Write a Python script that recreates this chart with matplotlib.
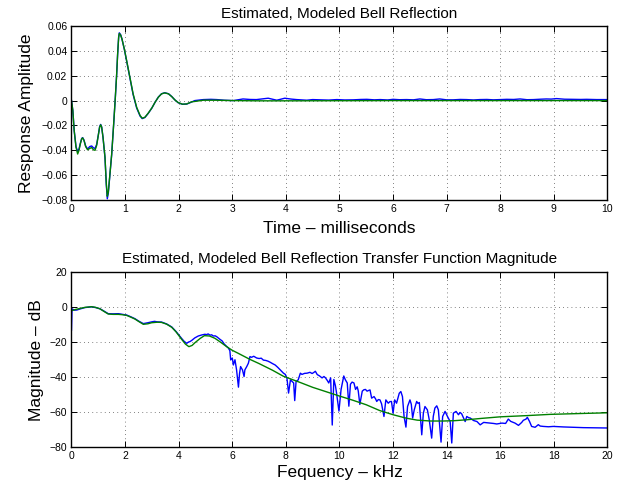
import matplotlib
matplotlib.use("Agg")
import matplotlib.pyplot as plt

plt.rcParams['font.family'] = ['Liberation Sans', 'DejaVu Sans']

# ---- top panel: impulse response (time in ms) ----
t_early = [0, 0.025, 0.05, 0.084, 0.115, 0.14, 0.165, 0.19, 0.208, 0.233,
           0.264, 0.30, 0.34, 0.376, 0.41, 0.44, 0.47, 0.50, 0.525, 0.544,
           0.563, 0.588, 0.625, 0.65, 0.668, 0.687, 0.712, 0.75, 0.787, 0.818,
           0.843, 0.861, 0.88, 0.892, 0.917, 0.942, 0.986, 1.03, 1.09, 1.15,
           1.216, 1.28, 1.32, 1.37, 1.43, 1.50, 1.56, 1.62, 1.68, 1.74,
           1.81, 1.87, 1.93, 1.99, 2.07, 2.15, 2.24]
amp_model_early = [0, -0.008, -0.024, -0.0375, -0.043, -0.040, -0.0348, -0.0308, -0.030, -0.032,
                   -0.037, -0.0396, -0.0385, -0.0378, -0.0396, -0.040, -0.036, -0.028, -0.0214, -0.0195,
                   -0.0214, -0.0295, -0.0455, -0.067, -0.077, -0.0736, -0.0616, -0.043, -0.0187, 0.0027,
                   0.0214, 0.0375, 0.051, 0.054, 0.0527, 0.0495, 0.0415, 0.032, 0.0187, 0.0054,
                   -0.0054, -0.012, -0.0142, -0.0134, -0.0102, -0.0059, -0.0013, 0.0027, 0.0054, 0.0062,
                   0.0054, 0.0032, 0.0005, -0.0016, -0.0029, -0.0027, -0.001]
amp_est_early = [0, -0.008, -0.024, -0.037, -0.041, -0.039, -0.0345, -0.0305, -0.0298, -0.0318,
                 -0.0365, -0.039, -0.037, -0.0365, -0.038, -0.0385, -0.0352, -0.0278, -0.021, -0.0192,
                 -0.0212, -0.0295, -0.046, -0.068, -0.079, -0.0745, -0.062, -0.0435, -0.019, 0.0025,
                 0.0212, 0.0375, 0.051, 0.0545, 0.053, 0.0495, 0.0412, 0.0315, 0.0182, 0.0048,
                 -0.006, -0.0125, -0.0145, -0.0136, -0.0104, -0.006, -0.0013, 0.0028, 0.0055, 0.0063,
                 0.0055, 0.0033, 0.0005, -0.0017, -0.003, -0.0028, -0.0012]

t_model_tail = [2.3, 2.46, 2.7, 3.0, 3.5, 4.0, 5.0, 6.0, 7.0, 8.0, 9.0, 10.0]
amp_model_tail = [-0.0007, 0.0003, 0.0003, 0.0, -0.0002, -0.0002, -0.0001, 0.0, 0.0, 0.0, 0.0, 0.0]

t_est_tail = [2.3, 2.46, 2.6, 2.71, 2.85, 3.02, 3.2, 3.33, 3.45, 3.55,
              3.67, 3.83, 3.98, 4.1, 4.2, 4.39, 4.5, 4.64, 4.8, 4.95,
              5.1, 5.26, 5.4, 5.51, 5.65, 5.76, 5.9, 6.0, 6.12, 6.25,
              6.38, 6.5, 6.62, 6.75, 6.87, 7.0, 7.12, 7.25, 7.37, 7.5,
              7.62, 7.75, 7.87, 8.0, 8.12, 8.25, 8.37, 8.5, 8.62, 8.75,
              8.86, 8.95, 9.05, 9.2, 9.36, 9.5, 9.61, 9.8, 10.0]
amp_est_tail = [0.0, 0.0008, 0.001, 0.0008, 0.0003, 0.0, 0.0013, 0.0009, 0.0008, 0.0013,
                0.0019, 0.0003, 0.0019, 0.0012, 0.0008, 0.0003, 0.0008, 0.0006, 0.0004, 0.0008,
                0.0005, 0.0006, 0.0009, 0.001, 0.0006, 0.0008, 0.0005, 0.001, 0.0007, 0.0008,
                0.0006, 0.0013, 0.0007, 0.0008, 0.0013, 0.0006, 0.0006, 0.0009, 0.0008, 0.0005,
                0.0008, 0.0009, 0.0006, 0.0008, 0.001, 0.0009, 0.0013, 0.0007, 0.0008, 0.0011,
                0.0013, 0.0012, 0.0016, 0.0011, 0.001, 0.0009, 0.001, 0.0008, 0.0008]

top_xticks = [0, 1, 2, 3, 4, 5, 6, 7, 8, 9, 10]
top_yticks = [-0.08, -0.06, -0.04, -0.02, 0, 0.02, 0.04, 0.06]
top_ylabels = ['\u22120.08', '\u22120.06', '\u22120.04', '\u22120.02', '0', '0.02', '0.04', '0.06']

# ---- bottom panel: magnitude response (kHz, dB) ----
f_model = [0, 0.15, 0.32, 0.5, 0.75, 0.9, 1.06, 1.2, 1.37, 1.55,
           1.75, 1.9, 2.06, 2.2, 2.37, 2.5, 2.68, 2.85, 2.99, 3.2,
           3.36, 3.55, 3.74, 3.9, 4.11, 4.25, 4.38, 4.5, 4.61, 4.8,
           4.96, 5.15, 5.35, 5.55, 5.79, 6.0, 6.22, 6.66, 7.0, 7.5,
           7.9, 8.53, 9.0, 9.5, 9.96, 10.5, 11.0, 11.5, 12.0, 12.5,
           12.9, 13.4, 13.87, 14.3, 14.74, 15.3, 16.0, 17.0, 17.85, 19.0, 20.0]
db_model = [-1.9, -1.2, -0.6, 0.0, 0.4, 0.0, -0.8, -2.2, -3.8, -4.0,
            -4.0, -4.2, -4.6, -5.5, -6.7, -8.0, -9.7, -9.4, -8.8, -8.5,
            -8.6, -9.6, -11.4, -14.0, -18.3, -21.0, -22.5, -21.8, -20.2, -17.8,
            -16.2, -16.4, -17.7, -19.8, -22.5, -24.6, -26.3, -29.8, -32.2, -36.0,
            -39.4, -43.0, -45.8, -48.3, -50.6, -53.2, -55.8, -59.1, -61.5, -63.5,
            -64.6, -65.1, -65.1, -64.9, -64.4, -63.6, -62.7, -62.0, -61.3, -60.8, -60.4]

f_est = [0, 0.02, 0.1, 0.2, 0.32, 0.5, 0.75, 0.9, 1.06, 1.2,
         1.37, 1.55, 1.75, 1.9, 2.06, 2.2, 2.37, 2.5, 2.68, 2.85,
         2.99, 3.1, 3.2, 3.36, 3.55, 3.74, 3.9, 4.11, 4.2, 4.3,
         4.36, 4.42, 4.48, 4.6, 4.73, 4.86, 4.98, 5.04, 5.1, 5.17,
         5.23, 5.29, 5.36, 5.42, 5.54, 5.62, 5.7, 5.79, 5.85, 5.91,
         5.94, 6.0, 6.04, 6.1, 6.16, 6.23, 6.27, 6.31, 6.38, 6.44,
         6.47, 6.54, 6.6, 6.66, 6.72, 6.8, 6.91, 7.0, 7.08, 7.16,
         7.25, 7.33, 7.41, 7.5, 7.6, 7.7, 7.79, 7.91, 7.98, 8.04,
         8.1, 8.17, 8.23, 8.29, 8.33, 8.38, 8.46, 8.54, 8.6, 8.7,
         8.79, 8.9, 8.98, 9.04, 9.1, 9.17, 9.25, 9.35, 9.42, 9.48,
         9.55, 9.6, 9.67, 9.73, 9.79, 9.85, 9.89, 9.98, 10.06, 10.16,
         10.22, 10.29, 10.35, 10.41, 10.47, 10.54, 10.6, 10.66, 10.7, 10.76,
         10.85, 10.91, 10.97, 11.03, 11.1, 11.14, 11.2, 11.29, 11.35, 11.39,
         11.45, 11.51, 11.57, 11.66, 11.73, 11.82, 11.88, 11.94, 12.0, 12.06,
         12.13, 12.23, 12.29, 12.35, 12.41, 12.48, 12.54, 12.63, 12.68, 12.73,
         12.79, 12.88, 12.93, 12.98, 13.07, 13.13, 13.19, 13.28, 13.35, 13.44,
         13.5, 13.56, 13.63, 13.69, 13.79, 13.85, 13.94, 14.03, 14.13, 14.19,
         14.25, 14.35, 14.44, 14.5, 14.56, 14.62, 14.69, 14.75, 14.82, 14.88,
         15.0, 15.13, 15.25, 15.38, 15.5, 15.63, 15.75, 15.87, 16.06, 16.2,
         16.3, 16.39, 16.55, 16.68, 16.8, 16.86, 16.96, 17.01, 17.09, 17.17,
         17.3, 17.42, 17.49, 17.61, 17.8, 17.98, 18.36, 19.1, 20.0]
db_est = [-13.0, -0.8, -1.6, -1.5, -0.9, -0.1, 0.3, -0.1, -0.8, -2.0,
          -3.6, -3.7, -3.6, -4.0, -4.4, -5.3, -6.5, -7.8, -9.3, -8.8,
          -8.3, -8.0, -8.3, -8.4, -9.5, -11.2, -13.8, -17.8, -19.4, -20.6,
          -19.9, -19.6, -19.0, -17.5, -16.4, -15.8, -15.4, -15.6, -15.2, -15.9,
          -15.7, -16.4, -16.3, -16.8, -18.3, -19.2, -21.0, -22.4, -23.2, -24.8,
          -30.1, -29.0, -33.0, -30.0, -35.8, -45.7, -38.0, -33.9, -35.8, -39.6,
          -35.8, -33.9, -32.0, -28.2, -28.6, -28.0, -29.0, -29.3, -29.1, -30.2,
          -30.4, -30.8, -31.4, -32.2, -33.0, -34.4, -35.8, -37.7, -38.4, -40.6,
          -49.1, -41.5, -42.4, -43.3, -53.4, -42.5, -41.5, -37.7, -38.4, -37.8,
          -37.7, -37.2, -37.9, -37.3, -36.6, -38.5, -39.2, -40.4, -39.6, -40.4,
          -42.0, -43.3, -40.4, -67.4, -41.3, -45.0, -49.0, -59.4, -47.0, -39.3,
          -41.5, -43.3, -56.6, -44.0, -42.8, -43.3, -47.0, -45.5, -47.8, -55.6,
          -48.0, -47.2, -47.0, -48.0, -47.5, -47.3, -52.0, -51.1, -52.5, -53.9,
          -52.8, -53.0, -55.2, -62.5, -53.0, -54.9, -54.0, -53.9, -60.6, -53.0,
          -54.9, -49.2, -48.2, -51.1, -62.5, -68.6, -56.8, -53.0, -55.5, -63.4,
          -58.7, -53.9, -55.0, -54.5, -73.0, -60.6, -56.8, -58.7, -64.4, -74.9,
          -62.5, -57.7, -56.4, -58.7, -77.2, -62.5, -59.6, -62.5, -65.4, -77.7,
          -60.6, -59.6, -61.5, -60.2, -61.0, -63.0, -65.4, -62.5, -63.2, -63.4,
          -64.8, -65.4, -67.3, -65.9, -66.1, -66.3, -66.5, -66.8, -66.3, -66.5,
          -64.0, -65.3, -66.3, -67.6, -65.9, -64.7, -64.0, -63.0, -65.3, -68.2,
          -68.7, -67.2, -68.0, -68.2, -68.4, -68.2, -68.5, -68.9, -69.1]

bot_xticks = [0, 2, 4, 6, 8, 10, 12, 14, 16, 18, 20]
bot_yticks = [-80, -60, -40, -20, 0, 20]
bot_ylabels = ['\u221280', '\u221260', '\u221240', '\u221220', '0', '20']

BLUE = '#0000ff'
GREEN = '#008000'


def style_axes(ax):
    ax.grid(True, linestyle=(0, (1, 4)), color='0.35', linewidth=0.6)
    ax.tick_params(direction='in', top=True, right=True, length=4, width=0.7,
                   labelsize=7.5, pad=3)
    for s in ax.spines.values():
        s.set_linewidth(1.0)


fig = plt.figure(figsize=(6.31, 4.87), dpi=100)

ax1 = fig.add_axes([0.1133, 0.5893, 0.8494, 0.3573])
ax1.plot(t_early + t_est_tail, amp_est_early + amp_est_tail, color=BLUE, lw=1.0)
ax1.plot(t_early + t_model_tail, amp_model_early + amp_model_tail, color=GREEN, lw=1.0)
ax1.set_xlim(0, 10)
ax1.set_ylim(-0.08, 0.06)
ax1.set_xticks(top_xticks)
ax1.set_yticks(top_yticks)
ax1.set_yticklabels(top_ylabels)
style_axes(ax1)
ax1.set_title('Estimated, Modeled Bell Reflection', fontsize=11, pad=6)
ax1.set_xlabel('Time \u2013 milliseconds', fontsize=12.5, labelpad=5)
ax1.set_ylabel('Response Amplitude', fontsize=12.5, labelpad=5)

ax2 = fig.add_axes([0.1133, 0.0821, 0.8494, 0.3584])
ax2.plot(f_est, db_est, color=BLUE, lw=1.0)
ax2.plot(f_model, db_model, color=GREEN, lw=1.0)
ax2.set_xlim(0, 20)
ax2.set_ylim(-80, 20)
ax2.set_xticks(bot_xticks)
ax2.set_yticks(bot_yticks)
ax2.set_yticklabels(bot_ylabels)
style_axes(ax2)
ax2.set_title('Estimated, Modeled Bell Reflection Transfer Function Magnitude', fontsize=11, pad=7)
ax2.set_xlabel('Fequency \u2013 kHz', fontsize=12.5, labelpad=3)
ax2.set_ylabel('Magnitude \u2013 dB', fontsize=12.5, labelpad=4)

fig.savefig('out.png', dpi=100)
